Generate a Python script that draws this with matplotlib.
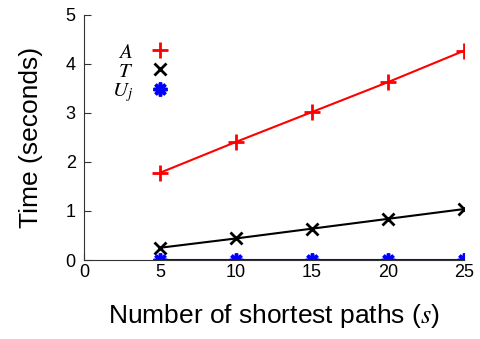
import matplotlib.pyplot as plt
from matplotlib.lines import Line2D

plt.rcParams['font.family'] = ['Liberation Sans', 'DejaVu Sans']
plt.rcParams['mathtext.fontset'] = 'stix'

paths = [5, 10, 15, 20, 25]
time_a = [1.78, 2.41, 3.02, 3.63, 4.27]
time_t = [0.25, 0.44, 0.64, 0.84, 1.04]
time_u = [0.01, 0.01, 0.01, 0.01, 0.01]
labels = ['$A$', '$T$', '$U_j$']

fig = plt.figure(figsize=(4.8, 3.39), dpi=100)
ax = fig.add_axes([0.175, 0.233, 0.792, 0.723])

ax.plot(paths, time_a, color='red', lw=1.5, marker='+', ms=11, mew=2, label=labels[0])
ax.plot(paths, time_t, color='black', lw=1.5, marker='x', ms=8, mew=2, label=labels[1])
ax.plot(paths, time_u, color='blue', lw=1.5, marker=(8, 2, 0), ms=10, mew=2.5, label=labels[2])

ax.set_xlim(0, 25)
ax.set_ylim(0, 5)
ax.set_xticks([0, 5, 10, 15, 20, 25])
ax.set_yticks([0, 1, 2, 3, 4, 5])
ax.spines['top'].set_visible(False)
ax.spines['right'].set_visible(False)
for s in ['left', 'bottom']:
    ax.spines[s].set_color('#333333')
ax.tick_params(direction='in', labelsize=13, length=5, color='#333333')
ax.tick_params(axis='y', pad=6)
ax.tick_params(axis='x', pad=3)

ax.set_xlabel('Number of shortest paths ($s$)', fontsize=19, labelpad=15)
ax.set_ylabel('Time (seconds)', fontsize=19, labelpad=16)

# legend: label first, then marker only
handles = [Line2D([], [], ls='none', color=l.get_color(), marker=l.get_marker(),
                  ms=l.get_markersize(), mew=l.get_markeredgewidth()) for l in ax.get_lines()]
ax.legend(handles, labels, loc='upper left', bbox_to_anchor=(0.212, 0.905),
          bbox_transform=fig.transFigure, frameon=False, markerfirst=False,
          handlelength=1.0, handletextpad=0.8, labelspacing=0.0, fontsize=15,
          borderpad=0)

fig.savefig('out.png', dpi=100)
